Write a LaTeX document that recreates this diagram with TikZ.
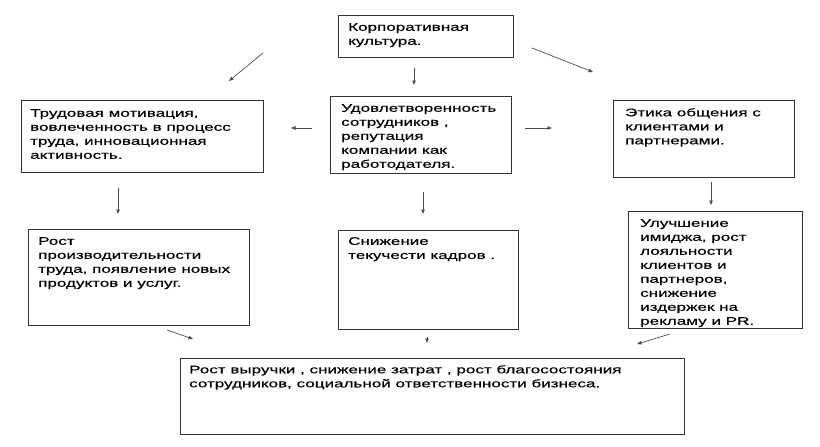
\documentclass[tikz,border=0pt]{standalone}
\usepackage{fontspec}
\setmainfont{Liberation Sans}[FakeStretch=1.55,FakeBold=0.4]
\usetikzlibrary{arrows.meta}
\begin{document}
\begin{tikzpicture}[x=1pt,y=-1pt,
  box/.style={draw=black!80, line width=0.8pt},
  txt/.style={anchor=north west, align=left, inner sep=0pt, font=\fontsize{11}{14}\selectfont, text=black},
  arr/.style={draw=black!70, line width=0.7pt, -{Triangle[length=4.5pt,width=3.5pt]}}]
\useasboundingbox (0,0) rectangle (820,447);
\fill[white] (0,0) rectangle (820,447);
% boxes
\draw[box] (338,15) rectangle (513,57);
\draw[box] (21,100) rectangle (263,172);
\draw[box] (330,96) rectangle (511,173);
\draw[box] (613,100) rectangle (794,177);
\draw[box] (28,229) rectangle (249,325);
\draw[box] (338,230) rectangle (518,329);
\draw[box] (628,211) rectangle (802,328);
\draw[box] (180,358) rectangle (684,434);
% texts
\node[txt] (t1) at (348,23) {Корпоративная\\культура.};
\node[txt] (t2) at (30,109) {Трудовая мотивация,\\вовлеченность в процесс\\труда, инновационная\\активность.};
\node[txt] (t3) at (341,104) {Удовлетворенность\\сотрудников ,\\репутация\\компании как\\работодателя.};
\node[txt] (t4) at (625,108) {Этика общения с\\клиентами и\\партнерами.};
\node[txt] (t5) at (38,237) {Рост\\производительности\\труда, появление новых\\продуктов и услуг.};
\node[txt] (t6) at (348,237) {Снижение\\текучести кадров .};
\node[txt] (t7) at (640,219) {Улучшение\\имиджа, рост\\лояльности\\клиентов и\\партнеров,\\снижение\\издержек на\\рекламу и PR.};
\node[txt] (t8) at (189,365) {Рост выручки , снижение затрат , рост благосостояния\\сотрудников, социальной ответственности бизнеса.};
% arrow end points
\coordinate (a1s) at (263,53); \coordinate (a1e) at (229,81);
\coordinate (a2s) at (414,68); \coordinate (a2e) at (414,85);
\coordinate (a3s) at (532,48); \coordinate (a3e) at (593,72);
\coordinate (a4s) at (312,128); \coordinate (a4e) at (291,128);
\coordinate (a5s) at (525,128); \coordinate (a5e) at (552,128);
\coordinate (a6s) at (118,188); \coordinate (a6e) at (118,214);
\coordinate (a7s) at (423,192); \coordinate (a7e) at (423,214);
\coordinate (a8s) at (711,182); \coordinate (a8e) at (711,205);
\coordinate (a9s) at (167,330); \coordinate (a9e) at (193,339);
\coordinate (a10s) at (427,337); \coordinate (a10e) at (427,343);
\coordinate (a11s) at (670,334); \coordinate (a11e) at (637,344);
\draw[arr] (a1s) -- (a1e);
\draw[arr] (a2s) -- (a2e);
\draw[arr] (a3s) -- (a3e);
\draw[arr] (a4s) -- (a4e);
\draw[arr] (a5s) -- (a5e);
\draw[arr] (a6s) -- (a6e);
\draw[arr] (a7s) -- (a7e);
\draw[arr] (a8s) -- (a8e);
\draw[arr] (a9s) -- (a9e);
\draw[arr] (a10s) -- (a10e);
\draw[arr] (a11s) -- (a11e);
\end{tikzpicture}
\end{document}
